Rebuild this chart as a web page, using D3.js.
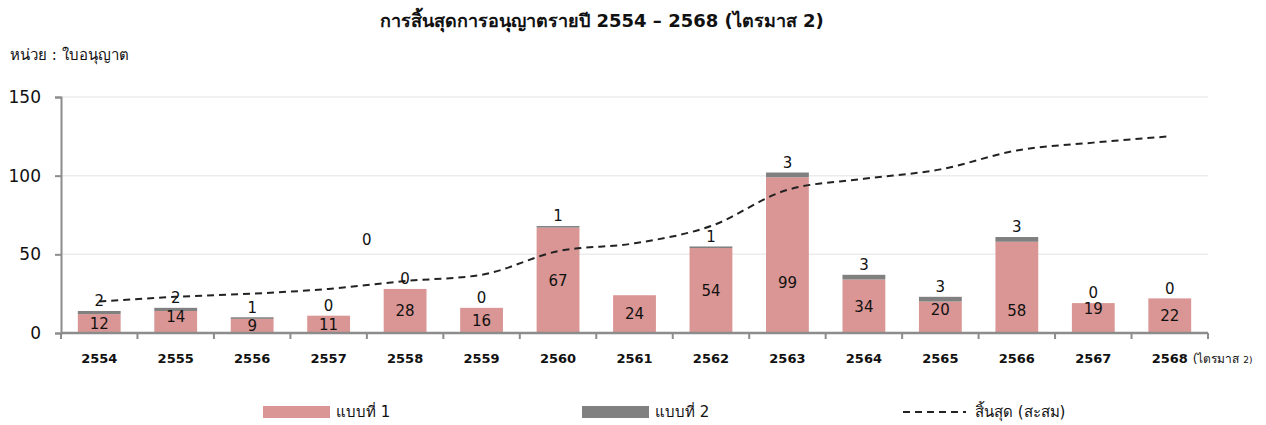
<!DOCTYPE html>
<html>
<head>
<meta charset="utf-8">
<script src="https://cdn.jsdelivr.net/npm/d3@7"></script>
<style>
  body { margin: 0; background: #fff; }
  svg text { font-family: Tahoma, "DejaVu Sans", "Noto Sans", sans-serif; fill: #111; }
</style>
</head>
<body>
<div id="chart"></div>
<script>
// data
var years = [ "2554", "2555", "2556", "2557", "2558", "2559", "2560", "2561",
              "2562", "2563", "2564", "2565", "2566", "2567", "2568" ];
var type1 = [ 12, 14, 9, 11, 28, 16, 67, 24, 54, 99, 34, 20, 58, 19, 22 ];
var type2 = [ 2, 2, 1, 0, 0, 0, 1, 0, 1, 3, 3, 3, 3, 0, 0 ];
var cumulative = [ 20, 23, 25, 28, 33, 37, 52, 57, 68, 91, 98, 104, 116, 121, 125 ];
var yTicks = [ 0, 50, 100, 150 ];
var seriesNames = [ "แบบที่ 1", "แบบที่ 2", "สิ้นสุด (สะสม)" ];

var width = 1266, height = 425;
var margin = { top: 97, right: 58, bottom: 92, left: 61 };
var colors = { type1: "#d99694", type2: "#808080", line: "#222", axis: "#8c8c8c", grid: "#ececec" };

var svg = d3.select( "#chart" ).append( "svg" )
  .attr( "width", width ).attr( "height", height );

var x = d3.scaleBand().domain( years )
  .range( [ margin.left, width - margin.right ] ).paddingInner( 0.44 ).paddingOuter( 0.22 );
var y = d3.scaleLinear().domain( [ 0, 150 ] )
  .range( [ height - margin.bottom, margin.top ] );
var cx = function( yr ) { return x( yr ) + x.bandwidth() / 2; };

// title + unit
svg.append( "text" ).attr( "x", 602 ).attr( "y", 27 ).attr( "text-anchor", "middle" )
  .style( "font-size", "18px" ).style( "font-weight", "bold" )
  .text( "การสิ้นสุดการอนุญาตรายปี 2554 – 2568 (ไตรมาส 2)" );
svg.append( "text" ).attr( "x", 10 ).attr( "y", 60 )
  .style( "font-size", "15px" ).text( "หน่วย : ใบอนุญาต" );

// gridlines
svg.append( "g" ).selectAll( "line" ).data( yTicks.slice( 1 ) ).join( "line" )
  .attr( "x1", margin.left ).attr( "x2", width - margin.right )
  .attr( "y1", function( d ) { return y( d ); } ).attr( "y2", function( d ) { return y( d ); } )
  .attr( "stroke", colors.grid ).attr( "stroke-width", 1.5 );

// y axis
var yAxis = svg.append( "g" ).attr( "transform", "translate(" + margin.left + ",0)" )
  .call( d3.axisLeft( y ).tickValues( yTicks ).tickSize( 6 ).tickPadding( 14 ) );
yAxis.select( ".domain" ).attr( "stroke", colors.axis ).attr( "stroke-width", 2 );
yAxis.selectAll( ".tick line" ).attr( "stroke", colors.axis ).attr( "stroke-width", 2 );
yAxis.selectAll( "text" ).style( "font-size", "17px" ).attr( "fill", "#111" );

// bars
var stackData = years.map( function( yr, i ) {
  return { year: yr, a: type1[ i ], b: type2[ i ] };
} );
svg.append( "g" ).selectAll( "rect" ).data( stackData ).join( "rect" )
  .attr( "x", function( d ) { return x( d.year ); } )
  .attr( "width", x.bandwidth() )
  .attr( "y", function( d ) { return y( d.a ); } )
  .attr( "height", function( d ) { return y( 0 ) - y( d.a ); } )
  .attr( "fill", colors.type1 );
svg.append( "g" ).selectAll( "rect" ).data( stackData.filter( function( d ) { return d.b > 0; } ) ).join( "rect" )
  .attr( "x", function( d ) { return x( d.year ); } )
  .attr( "width", x.bandwidth() )
  .attr( "y", function( d ) { return y( d.a + d.b ); } )
  .attr( "height", function( d ) { return y( d.a ) - y( d.a + d.b ); } )
  .attr( "fill", colors.type2 );

// x axis, ticks sit between categories
var gap = ( x.step() - x.bandwidth() ) / 2;
var bounds = years.map( function( yr ) { return x( yr ) - gap; } );
bounds.push( width - margin.right );
var xg = svg.append( "g" );
xg.append( "line" ).attr( "x1", margin.left ).attr( "x2", width - margin.right )
  .attr( "y1", y( 0 ) ).attr( "y2", y( 0 ) )
  .attr( "stroke", colors.axis ).attr( "stroke-width", 2.5 );
xg.selectAll( ".tk" ).data( bounds ).join( "line" ).attr( "class", "tk" )
  .attr( "x1", function( d ) { return d; } ).attr( "x2", function( d ) { return d; } )
  .attr( "y1", y( 0 ) ).attr( "y2", y( 0 ) + 6 )
  .attr( "stroke", colors.axis ).attr( "stroke-width", 2 );
xg.selectAll( ".xl" ).data( years ).join( "text" ).attr( "class", "xl" )
  .attr( "x", cx ).attr( "y", y( 0 ) + 30 ).attr( "text-anchor", "middle" )
  .style( "font-size", "13px" ).style( "font-weight", "bold" )
  .text( function( d ) { return d; } );
xg.append( "text" )
  .attr( "x", cx( "2568" ) + 23 ).attr( "y", y( 0 ) + 30 )
  .style( "font-size", "12px" ).text( "(ไตรมาส " )
  .append( "tspan" ).style( "font-size", "9px" ).text( "2)" );

// cumulative line
var line = d3.line()
  .x( function( d, i ) { return cx( years[ i ] ); } )
  .y( function( d ) { return y( d ); } )
  .curve( d3.curveMonotoneX );
svg.append( "path" ).datum( cumulative ).attr( "d", line )
  .attr( "fill", "none" ).attr( "stroke", colors.line )
  .attr( "stroke-width", 2 ).attr( "stroke-dasharray", "7,5" );

// data labels; a few were dragged by hand in the original (px offsets)
var insideNudge = { "2555": -5, "2563": 28, "2565": -8, "2566": 23, "2567": -9 };
svg.append( "g" ).selectAll( "text" ).data( stackData ).join( "text" )
  .attr( "x", function( d ) { return cx( d.year ); } )
  .attr( "y", function( d ) { return y( d.a / 2 ) + ( insideNudge[ d.year ] || 0 ); } )
  .attr( "dy", "0.35em" ).attr( "text-anchor", "middle" )
  .style( "font-size", "15px" ).text( function( d ) { return d.a; } );
svg.append( "g" ).selectAll( "text" ).data( stackData.filter( function( d ) { return d.year !== "2561"; } ) ).join( "text" )
  .attr( "x", function( d ) { return cx( d.year ); } )
  .attr( "y", function( d ) { return y( d.a + d.b ) - 10; } )
  .attr( "dy", "0.35em" ).attr( "text-anchor", "middle" )
  .style( "font-size", "15px" ).text( function( d ) { return d.b; } );
// stray label left floating in the original
svg.append( "text" )
  .attr( "x", ( cx( "2557" ) + cx( "2558" ) ) / 2 )
  .attr( "y", y( 59 ) ).attr( "dy", "0.35em" ).attr( "text-anchor", "middle" )
  .style( "font-size", "15px" ).text( type2[ 7 ] );

// legend
var legend = svg.append( "g" ).attr( "transform", "translate(0,412)" );
var lx = [ 263, 582, 903 ];
legend.append( "rect" ).attr( "x", lx[ 0 ] ).attr( "y", -6 ).attr( "width", 67 ).attr( "height", 12 ).attr( "fill", colors.type1 );
legend.append( "rect" ).attr( "x", lx[ 1 ] ).attr( "y", -6 ).attr( "width", 67 ).attr( "height", 12 ).attr( "fill", colors.type2 );
legend.append( "line" ).attr( "x1", lx[ 2 ] ).attr( "x2", lx[ 2 ] + 63 ).attr( "y1", 0 ).attr( "y2", 0 )
  .attr( "stroke", colors.line ).attr( "stroke-width", 2 ).attr( "stroke-dasharray", "7,5" );
legend.selectAll( ".lt" ).data( seriesNames ).join( "text" ).attr( "class", "lt" )
  .attr( "x", function( d, i ) { return lx[ i ] + ( i === 2 ? 72 : 73 ); } )
  .attr( "dy", "0.35em" ).style( "font-size", "15px" )
  .text( function( d ) { return d; } );
</script>
</body>
</html>
